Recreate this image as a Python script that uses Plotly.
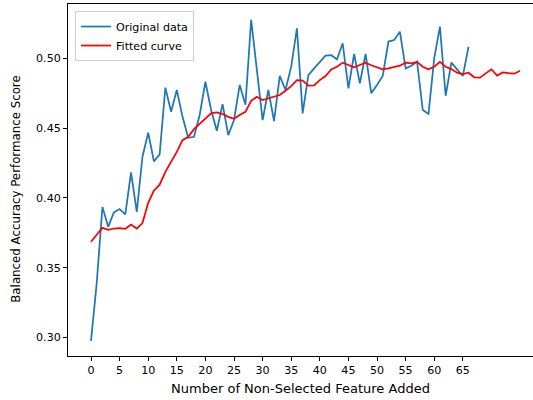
import plotly.graph_objects as go

# Balanced accuracy as non-selected features are added one by one
original_x = list(range(0, 67))
original_score = [
    0.2976, 0.3390, 0.3936, 0.3793, 0.3896, 0.3920, 0.3882, 0.4183, 0.3900, 0.4295,
    0.4467, 0.4262, 0.4312, 0.4790, 0.4617, 0.4773, 0.4581, 0.4431, 0.4438, 0.4594,
    0.4832, 0.4630, 0.4481, 0.4672, 0.4450, 0.4558, 0.4809, 0.4668, 0.5276, 0.4928,
    0.4558, 0.4773, 0.4550, 0.4874, 0.4773, 0.4940, 0.5215, 0.4606, 0.4880, 0.4928,
    0.4976, 0.5019, 0.5022, 0.4993, 0.5108, 0.4785, 0.5031, 0.4821, 0.5031, 0.4749,
    0.4809, 0.4874, 0.5120, 0.5131, 0.5191, 0.4928, 0.4947, 0.4976, 0.4630, 0.4601,
    0.5000, 0.5227, 0.4732, 0.4969, 0.4921, 0.4873, 0.5083,
]

# Smoothed fit extends past the last observation
fitted_x = list(range(0, 76))
fitted_score = [
    0.3686, 0.3736, 0.3786, 0.3772, 0.3781, 0.3783, 0.3779, 0.3810, 0.3781, 0.3820,
    0.3965, 0.4053, 0.4095, 0.4187, 0.4254, 0.4330, 0.4414, 0.4438, 0.4493, 0.4529,
    0.4570, 0.4606, 0.4613, 0.4601, 0.4581, 0.4567, 0.4594, 0.4617, 0.4695, 0.4725,
    0.4701, 0.4713, 0.4720, 0.4737, 0.4768, 0.4801, 0.4844, 0.4840, 0.4804, 0.4806,
    0.4844, 0.4873, 0.4921, 0.4940, 0.4969, 0.4952, 0.4935, 0.4952, 0.4969, 0.4950,
    0.4933, 0.4921, 0.4928, 0.4940, 0.4947, 0.4969, 0.4964, 0.4974, 0.4940, 0.4921,
    0.4940, 0.4974, 0.4940, 0.4923, 0.4897, 0.4887, 0.4897, 0.4864, 0.4861, 0.4892,
    0.4921, 0.4876, 0.4899, 0.4894, 0.4890, 0.4911,
]

x_ticks = list(range(0, 70, 5))
y_ticks = [0.30, 0.35, 0.40, 0.45, 0.50]

FONT = "DejaVu Sans"
FS = 11.1

fig = go.Figure()
fig.add_trace(go.Scatter(
    x=original_x, y=original_score, mode="lines", name="Original data",
    line=dict(color="#1f77b4", width=1.75),
))
fig.add_trace(go.Scatter(
    x=fitted_x, y=fitted_score, mode="lines", name="Fitted curve",
    line=dict(color="#ff0000", width=1.75),
))

fig.update_layout(
    width=533, height=400,
    margin=dict(l=68, r=0, t=4, b=44),
    paper_bgcolor="white", plot_bgcolor="white",
    font=dict(family=FONT, size=FS, color="black"),
    showlegend=True,
    legend=dict(
        x=0.015, y=0.98, xanchor="left", yanchor="top",
        bgcolor="rgba(255,255,255,0.8)", bordercolor="#cccccc", borderwidth=1,
        font=dict(family=FONT, size=FS, color="black"),
    ),
    xaxis=dict(
        range=[-4.02, 77.27], tickvals=x_ticks,
        showgrid=False, zeroline=False,
        showline=True, linecolor="black", linewidth=1, mirror=True,
        ticks="outside", ticklen=4, tickwidth=1, tickcolor="black",
        title=dict(text="Number of Non-Selected Feature Added", standoff=7),
    ),
    yaxis=dict(
        range=[0.2868, 0.5389], tickvals=y_ticks, tickformat=".2f",
        showgrid=False, zeroline=False,
        showline=True, linecolor="black", linewidth=1, mirror=False,
        ticks="outside", ticklen=4, tickwidth=1, tickcolor="black",
    ),
    annotations=[dict(
        text="Balanced Accuracy Performance Score",
        xref="paper", yref="paper", x=-0.112, y=0.475,
        xanchor="center", yanchor="middle", textangle=-90, showarrow=False,
        font=dict(family=FONT, size=11.8, color="black"),
    )],
)

fig.write_html("out.html")
